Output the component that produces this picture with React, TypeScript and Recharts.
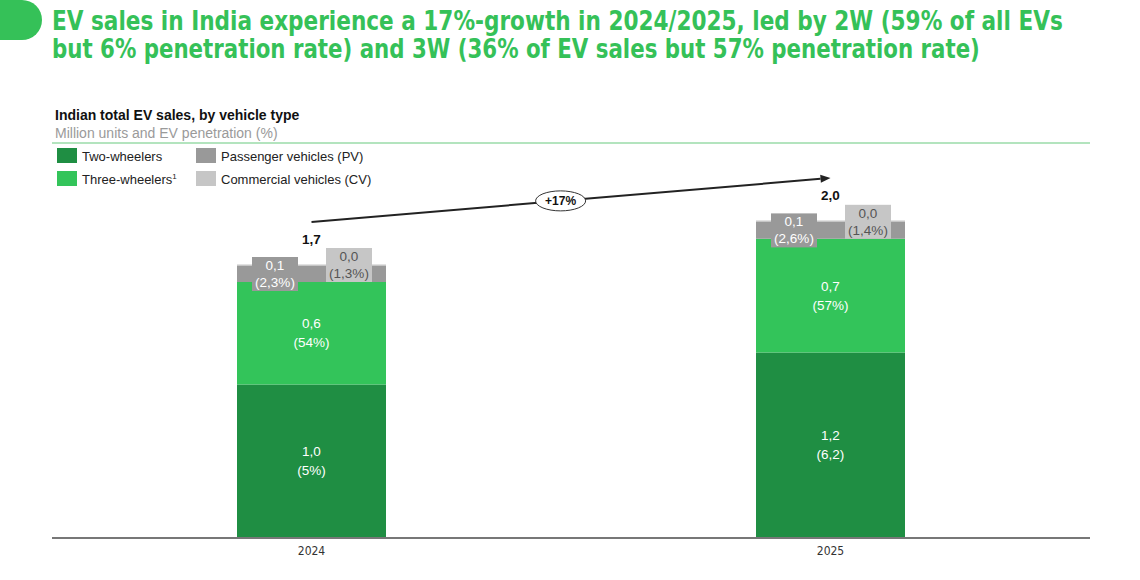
import React, { useLayoutEffect, useRef, useState } from 'react';
import { BarChart, Bar, XAxis, YAxis, LabelList, ReferenceLine } from 'recharts';

const years = ['2024', '2025'];
const twoWheelers = [0.96, 1.16];
const threeWheelers = [0.64, 0.71];
const passengerVehicles = [0.1, 0.105];
const commercialVehicles = [0.01, 0.01];

const twoLabels = ['1,0', '1,2'];
const twoPen = ['(5%)', '(6,2)'];
const threeLabels = ['0,6', '0,7'];
const threePen = ['(54%)', '(57%)'];
const pvLabels = ['0,1', '0,1'];
const pvPen = ['(2,3%)', '(2,6%)'];
const cvLabels = ['0,0', '0,0'];
const cvPen = ['(1,3%)', '(1,4%)'];
const totals = ['1,7', '2,0'];

const growthLabel = '+17%';
const arrowFrom = 1.975;
const arrowTo = 2.25;

const titleLines = [
  'EV sales in India experience a 17%-growth in 2024/2025, led by 2W (59% of all EVs',
  'but 6% penetration rate) and 3W (36% of EV sales but 57% penetration rate)',
];

const C_2W = '#1f8e43';
const C_3W = '#33c45a';
const C_PV = '#999999';
const C_CV = '#c6c6c6';
const GREEN = '#35c158';
const FONT = 'Liberation Sans, Arial, sans-serif';

const data = years.map((year, i) => ({
  year,
  two: twoWheelers[i],
  three: threeWheelers[i],
  pv: passengerVehicles[i],
  cv: commercialVehicles[i],
}));

const legendItems = [
  { label: 'Two-wheelers', color: C_2W, col: 0, row: 0 },
  { label: 'Three-wheelers', sup: '1', color: C_3W, col: 0, row: 1 },
  { label: 'Passenger vehicles (PV)', color: C_PV, col: 1, row: 0 },
  { label: 'Commercial vehicles (CV)', color: C_CV, col: 1, row: 1 },
];

// squeeze a title line to the width it has in the slide
const FitLine = ({ text, width, top }: { text: string; width: number; top: number }) => {
  const ref = useRef<HTMLSpanElement>(null);
  const [k, setK] = useState(1);
  useLayoutEffect(() => {
    if (ref.current) setK(width / ref.current.offsetWidth);
  }, [text, width]);
  return (
    <span
      ref={ref}
      style={{
        position: 'absolute',
        left: 52,
        top,
        whiteSpace: 'nowrap',
        fontFamily: 'DejaVu Sans Condensed, DejaVu Sans, sans-serif',
        fontWeight: 'bold',
        fontSize: 27,
        lineHeight: '32px',
        color: GREEN,
        transform: `scaleX(${k})`,
        transformOrigin: 'left top',
      }}
    >
      {text}
    </span>
  );
};

const twoLine = (labels: string[], pens: string[], fill: string) => (props: any) => {
  const { x, y, width, height, index } = props;
  const cx = x + width / 2;
  const cy = y + height / 2;
  return (
    <g>
      <text x={cx} y={cy - 5} textAnchor="middle" fill={fill} fontSize={13.5} fontFamily={FONT}>{labels[index]}</text>
      <text x={cx} y={cy + 14} textAnchor="middle" fill={fill} fontSize={13.5} fontFamily={FONT}>{pens[index]}</text>
    </g>
  );
};

const pvBoxes = (props: any) => {
  const { x, y, width, height, index } = props;
  const cy = y + height / 2;
  const bottom = y + height;
  return (
    <g>
      <rect x={x + 15} y={cy - 17} width={46} height={34} fill={C_PV} />
      <text x={x + 38} y={cy - 4} textAnchor="middle" fill="#fff" fontSize={13.5} fontFamily={FONT}>{pvLabels[index]}</text>
      <text x={x + 38} y={cy + 13} textAnchor="middle" fill="#fff" fontSize={13.5} fontFamily={FONT}>{pvPen[index]}</text>
      <rect x={x + 89} y={bottom - 34} width={46} height={34} fill={C_CV} />
      <text x={x + 112} y={bottom - 21} textAnchor="middle" fill="#555" fontSize={13.5} fontFamily={FONT}>{cvLabels[index]}</text>
      <text x={x + 112} y={bottom - 4} textAnchor="middle" fill="#555" fontSize={13.5} fontFamily={FONT}>{cvPen[index]}</text>
    </g>
  );
};

const totalLabel = (props: any) => {
  const { x, y, width, index } = props;
  return (
    <text x={x + width / 2} y={y - 20} textAnchor="middle" fill="#111" fontSize={13.5} fontWeight="bold" fontFamily={FONT}>
      {totals[index]}
    </text>
  );
};

const GrowthArrow = (props: any) => {
  const { x1, y1, x2, y2 } = props;
  const ang = Math.atan2(y2 - y1, x2 - x1);
  const len = 10;
  const hw = 4;
  const bx = x2 - len * Math.cos(ang);
  const by = y2 - len * Math.sin(ang);
  const px = -Math.sin(ang) * hw;
  const py = Math.cos(ang) * hw;
  const t = 0.48;
  const ex = x1 + (x2 - x1) * t;
  const ey = y1 + (y2 - y1) * t;
  return (
    <g>
      <line x1={x1} y1={y1} x2={bx} y2={by} stroke="#222" strokeWidth={2} />
      <polygon points={`${x2},${y2} ${bx + px},${by + py} ${bx - px},${by - py}`} fill="#222" />
      <ellipse cx={ex} cy={ey} rx={25} ry={10} fill="#fff" stroke="#333" strokeWidth={1} />
      <text x={ex} y={ey + 4.5} textAnchor="middle" fontSize={12} fontWeight="bold" fill="#111" fontFamily={FONT}>
        {growthLabel}
      </text>
    </g>
  );
};

export default function App() {
  return (
    <div style={{ position: 'absolute', left: 0, top: 0, width: 1140, height: 580, background: '#fff', overflow: 'hidden' }}>
      <svg width={60} height={50} style={{ position: 'absolute', left: 0, top: 0 }}>
        <path d="M0,0 H22 A20,20 0 0 1 22,40 H0 Z" fill={GREEN} />
      </svg>
      <FitLine text={titleLines[0]} width={1011} top={5} />
      <FitLine text={titleLines[1]} width={928} top={33} />
      <svg width={1140} height={150} style={{ position: 'absolute', left: 0, top: 0 }}>
        <text x={55} y={120} fill="#111" fontSize={14} fontWeight="bold" fontFamily={FONT}>Indian total EV sales, by vehicle type</text>
        <text x={55} y={138} fill="#9a9a9a" fontSize={14} fontFamily={FONT}>Million units and EV penetration (%)</text>
        <line x1={52} y1={143} x2={1090} y2={143} stroke="#9adba8" strokeWidth={1.5} />
      </svg>
      <svg width={400} height={50} style={{ position: 'absolute', left: 0, top: 145 }}>
        {legendItems.map((it) => {
          const lx = it.col === 0 ? 57 : 196;
          const ly = it.row === 0 ? 3 : 26;
          return (
            <g key={it.label}>
              <rect x={lx} y={ly} width={20} height={15} fill={it.color} />
              <text x={lx + 25} y={ly + 13} fontSize={13} fill="#222" fontFamily={FONT}>
                {it.label}
                {it.sup && <tspan fontSize={8} dy={-5}>{it.sup}</tspan>}
              </text>
            </g>
          );
        })}
      </svg>
      <div style={{ position: 'absolute', left: 0, top: 0 }}>
        <BarChart width={1140} height={580} data={data} margin={{ top: 138, right: 50, left: 52, bottom: 12 }}>
          <XAxis
            dataKey="year"
            height={30}
            axisLine={{ stroke: '#777', strokeWidth: 2 }}
            tickLine={false}
            tick={{ fill: '#333', fontSize: 12, fontFamily: 'Liberation Sans Narrow, DejaVu Sans Condensed, Arial, sans-serif' }}
          />
          <YAxis hide domain={[0, 2.5]} />
          <Bar dataKey="two" stackId="s" fill={C_2W} barSize={149} isAnimationActive={false}>
            <LabelList dataKey="two" content={twoLine(twoLabels, twoPen, '#fff')} />
          </Bar>
          <Bar dataKey="three" stackId="s" fill={C_3W} barSize={149} isAnimationActive={false}>
            <LabelList dataKey="three" content={twoLine(threeLabels, threePen, '#fff')} />
          </Bar>
          <Bar dataKey="pv" stackId="s" fill={C_PV} barSize={149} isAnimationActive={false}>
            <LabelList dataKey="pv" content={pvBoxes} />
          </Bar>
          <Bar dataKey="cv" stackId="s" fill={C_CV} barSize={149} isAnimationActive={false}>
            <LabelList dataKey="cv" content={totalLabel} />
          </Bar>
          <ReferenceLine
            segment={[{ x: years[0], y: arrowFrom }, { x: years[1], y: arrowTo }]}
            shape={GrowthArrow}
            ifOverflow="visible"
          />
        </BarChart>
      </div>
    </div>
  );
}
